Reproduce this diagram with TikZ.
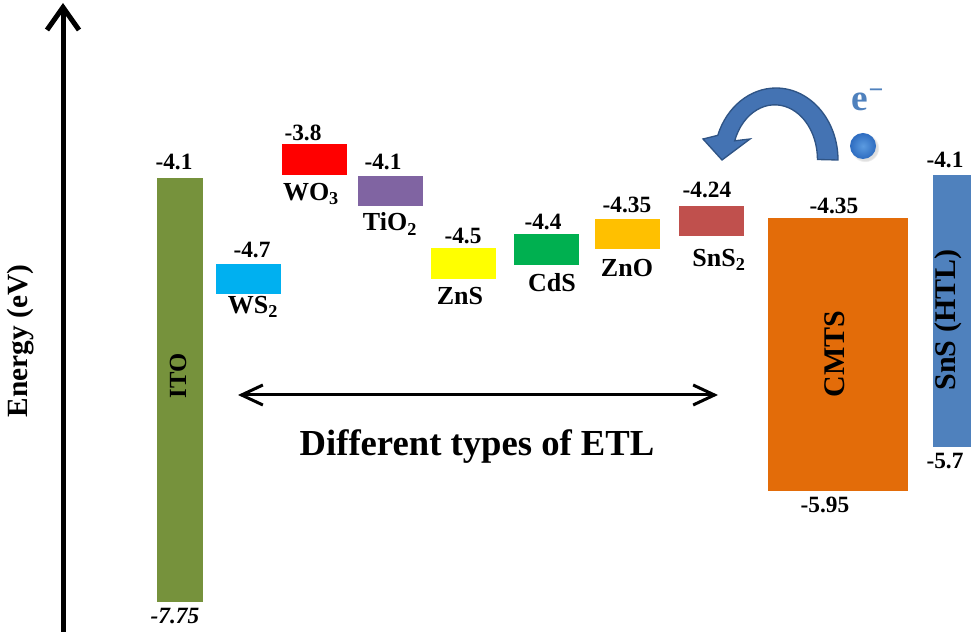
\documentclass[tikz,border=0pt]{standalone}
\usepackage{fontspec}
\setmainfont{Liberation Serif}
\usetikzlibrary{arrows.meta,shadows}
\definecolor{itoc}{HTML}{76923C}
\definecolor{wsc}{HTML}{00B0F0}
\definecolor{woc}{HTML}{FF0000}
\definecolor{tic}{HTML}{8064A2}
\definecolor{znsc}{HTML}{FFFF00}
\definecolor{cdsc}{HTML}{00B050}
\definecolor{znoc}{HTML}{FFC000}
\definecolor{snsc}{HTML}{C0504D}
\definecolor{cmtsc}{HTML}{E36C09}
\definecolor{htlc}{HTML}{4F81BD}
\definecolor{arrc}{HTML}{4473B3}
\definecolor{arrd}{HTML}{2F5485}
\definecolor{ballin}{HTML}{5C9BE0}
\definecolor{ballout}{HTML}{2E6CC0}
\begin{document}
\begin{tikzpicture}[x=0.75pt,y=-0.75pt,
  bar/.style={inner sep=0pt,outer sep=0pt},
  etl/.style={bar,minimum width=48.75pt,minimum height=22.9pt},
  num/.style={font=\bfseries\fontsize{17.5}{20}\selectfont},
  lbl/.style={font=\bfseries\fontsize{19.5}{22}\selectfont},
  big/.style={font=\bfseries\fontsize{22.5}{25}\selectfont}]
\useasboundingbox (0,0) rectangle (972,634);

% energy axis
\coordinate (e0) at (63,632);
\coordinate (e1) at (63,3);
\draw[line width=3.75pt,-{Straight Barb[length=17pt,width=24pt]}] (e0) -- (e1);
\node[rotate=90,font=\bfseries\fontsize{22}{24}\selectfont] (en) at (21,341) {Energy (eV)};

% electrodes and absorber
\node[bar,fill=itoc,minimum width=34.5pt,minimum height=318pt] (ito) at (180,390) {};
\node[bar,fill=cmtsc,minimum width=105pt,minimum height=204.75pt] (cmts) at (837.5,354.5) {};
\node[bar,fill=htlc,minimum width=28.5pt,minimum height=204pt] (htl) at (951.5,311) {};
\node[rotate=90,font=\bfseries\fontsize{18.5}{21}\selectfont] (itot) at (178,376) {ITO};
\node[rotate=90,big] (cmtst) at (835,354) {CMTS};
\node[rotate=90,big] (htlt) at (948,320) {SnS (HTL)};

% ETL boxes
\node[etl,fill=wsc] (ws) at (248.5,279) {};
\node[etl,fill=woc] (wo) at (314,159.5) {};
\node[etl,fill=tic] (ti) at (390,191) {};
\node[etl,fill=znsc] (zns) at (463,263.5) {};
\node[etl,fill=cdsc] (cds) at (546.5,249.5) {};
\node[etl,fill=znoc] (zno) at (627.5,234) {};
\node[etl,fill=snsc] (sns) at (711.5,221) {};

% band values
\node[num] (n1) at (174,162) {-4.1};
\node[num,font=\bfseries\itshape\fontsize{17.5}{20}\selectfont] (n2) at (175,616) {-7.75};
\node[num] (n3) at (252,250) {-4.7};
\node[num] (n4) at (303,133) {-3.8};
\node[num] (n5) at (383,162) {-4.1};
\node[num] (n6) at (463,236) {-4.5};
\node[num] (n7) at (543,222) {-4.4};
\node[num] (n8) at (627,205) {-4.35};
\node[num] (n9) at (707,190) {-4.24};
\node[num] (n10) at (834,206) {-4.35};
\node[num] (n11) at (825,505) {-5.95};
\node[num] (n12) at (945,160) {-4.1};
\node[num] (n13) at (945,461) {-5.7};

% names
\node[lbl] (l1) at (253,307) {WS\textsubscript{2}};
\node[lbl] (l2) at (311,194) {WO\textsubscript{3}};
\node[lbl] (l3) at (390,224) {TiO\textsubscript{2}};
\node[lbl] (l4) at (460,296) {ZnS};
\node[lbl] (l5) at (552,283) {CdS};
\node[lbl] (l6) at (627,268) {ZnO};
\node[lbl] (l7) at (719,260) {SnS\textsubscript{2}};

% ETL range
\coordinate (a0) at (238,395);
\coordinate (a1) at (718,395);
\draw[line width=2.25pt,{Straight Barb[length=16pt,width=15pt]}-{Straight Barb[length=16pt,width=15pt]}] (a0) -- (a1);
\node[font=\bfseries\fontsize{27.5}{30}\selectfont] (etl) at (477,447) {Different types of ETL};

% electron
\fill[arrc,draw=arrd,line width=1pt] (838,160) arc[start angle=0,end angle=160,x radius=46.5pt,y radius=54pt]
  -- (703,139) -- (722,160) -- (750,139) -- (734.7,140.8)
  arc[start angle=160,end angle=0,x radius=32pt,y radius=41pt] -- cycle;
\node[circle,minimum size=19.5pt,inner sep=0pt,inner color=ballin,outer color=ballout,circular drop shadow={opacity=0.25}] (el) at (863,146) {};
\node[font=\bfseries\fontsize{28}{30}\selectfont,text=htlc] (et) at (868,100) {e\textsuperscript{−}};
\end{tikzpicture}
\end{document}
